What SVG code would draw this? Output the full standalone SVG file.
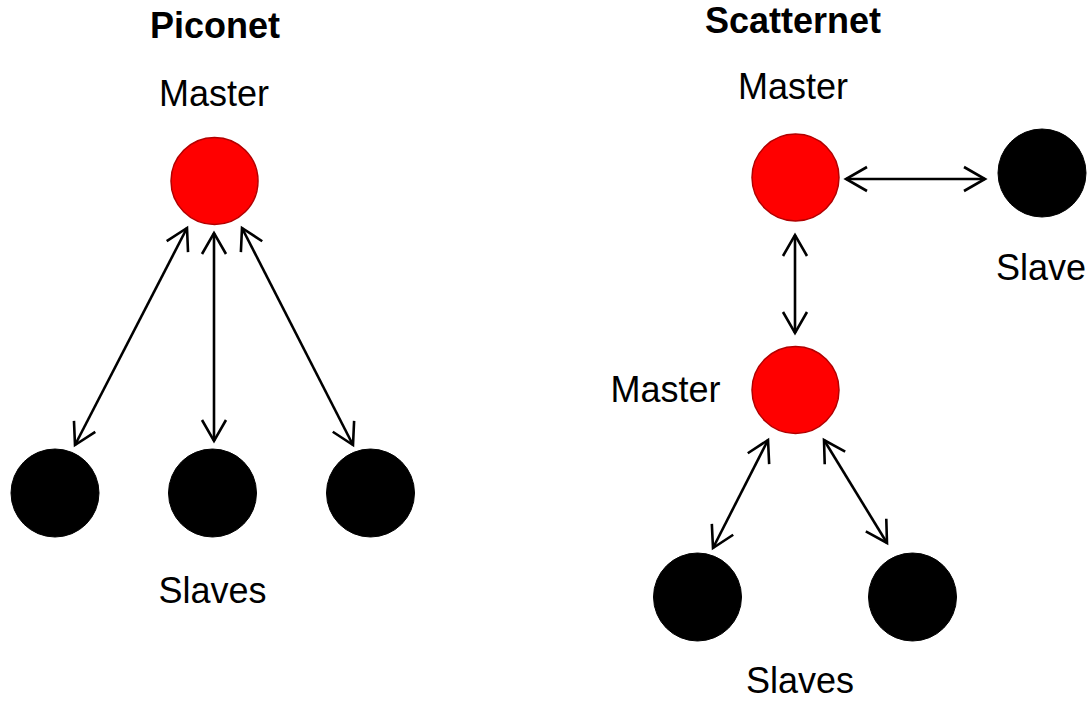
<svg xmlns="http://www.w3.org/2000/svg" width="1091" height="704" viewBox="0 0 1091 704">
  <style>
    .title { font-family: "Liberation Sans", Arial, sans-serif; font-size: 36px; font-weight: bold; fill: #000; }
    .label { font-family: "Liberation Sans", Arial, sans-serif; font-size: 36px; fill: #000; }
    .master { fill: #FF0000; stroke: #B20000; stroke-width: 1.5; }
    .slave { fill: #000000; stroke: #000000; stroke-width: 1; }
    .link { fill: none; stroke: #000; stroke-width: 2.6; marker-start: url(#open); marker-end: url(#open); }
  </style>
  <defs>
    <!-- open V arrowhead used at both ends of every link -->
    <marker id="open" markerUnits="userSpaceOnUse" markerWidth="30" markerHeight="30" viewBox="-24 -15 30 30" refX="0" refY="0" orient="auto-start-reverse" overflow="visible">
      <path d="M-21,-12 L0,0 L-21,12" fill="none" stroke="#000" stroke-width="2.6"/>
    </marker>
  </defs>
  <rect width="1091" height="704" fill="#FFFFFF"/>

  <!-- Piconet -->
  <text class="title" x="215" y="38" text-anchor="middle">Piconet</text>
  <g id="pico-master">
    <text class="label" x="214" y="106" text-anchor="middle">Master</text>
    <circle class="master" cx="214.5" cy="181" r="43.5"/>
  </g>
  <g id="pico-slave-1"><circle class="slave" cx="55" cy="493" r="44"/></g>
  <g id="pico-slave-2"><circle class="slave" cx="212.5" cy="493" r="44"/></g>
  <g id="pico-slave-3"><circle class="slave" cx="370.5" cy="493" r="44"/></g>
  <text class="label" x="212.5" y="603" text-anchor="middle">Slaves</text>

  <!-- Scatternet -->
  <text class="title" x="793" y="33" text-anchor="middle">Scatternet</text>
  <g id="scatter-master-1">
    <text class="label" x="793" y="99" text-anchor="middle">Master</text>
    <circle class="master" cx="795.5" cy="177.5" r="43.5"/>
  </g>
  <g id="scatter-slave-top">
    <circle class="slave" cx="1042" cy="173" r="44"/>
    <text class="label" x="996" y="280">Slave</text>
  </g>
  <g id="scatter-master-2">
    <text class="label" x="665.5" y="402" text-anchor="middle">Master</text>
    <circle class="master" cx="795.5" cy="390" r="43.5"/>
  </g>
  <g id="scatter-slave-1"><circle class="slave" cx="697.5" cy="597" r="44"/></g>
  <g id="scatter-slave-2"><circle class="slave" cx="912.5" cy="597" r="44"/></g>
  <text class="label" x="800" y="693" text-anchor="middle">Slaves</text>

  <!-- Connectors -->
  <g id="connectors">
    <line class="link" x1="214" y1="233" x2="214" y2="441"/>
    <line class="link" x1="187" y1="228" x2="75" y2="445"/>
    <line class="link" x1="242" y1="228" x2="353" y2="445"/>
    <line class="link" x1="846" y1="179" x2="985" y2="179"/>
    <line class="link" x1="795" y1="235" x2="795" y2="333"/>
    <line class="link" x1="768" y1="440" x2="713" y2="548"/>
    <line class="link" x1="824" y1="440" x2="887" y2="543"/>
  </g>
</svg>
